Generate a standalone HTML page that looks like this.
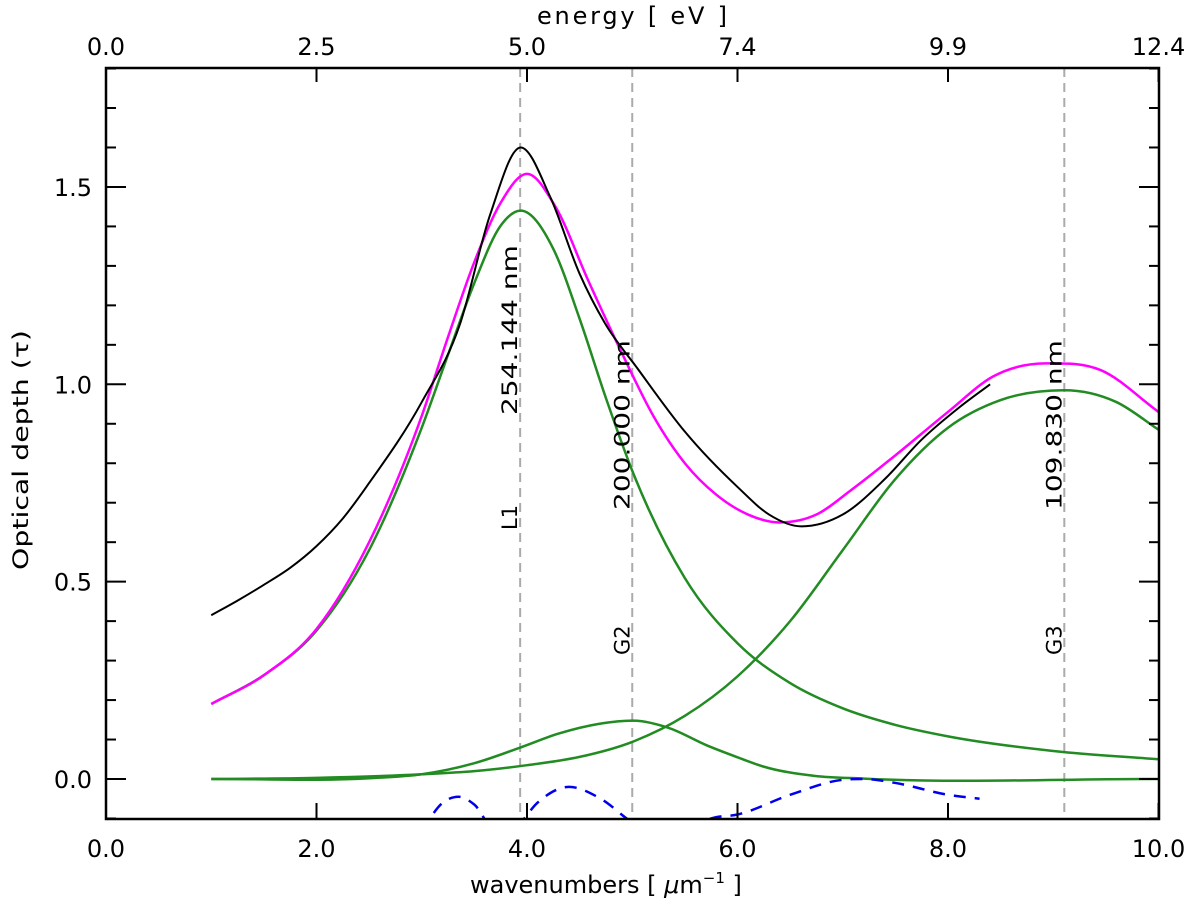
<!DOCTYPE html>
<html><head><meta charset="utf-8"><style>
body{margin:0;background:#fff}
svg{display:block;font-family:"DejaVu Sans","Liberation Sans",sans-serif}
</style></head><body>
<svg width="1200" height="907" viewBox="0 0 1200 907">
<defs><clipPath id="pc"><rect x="106" y="68" width="1053" height="751"/></clipPath></defs>
<g id="marks" clip-path="url(#pc)"></g>
<g id="axes"></g>
</svg>
<script>
const l1X=[1,1.5,2,2.5,3,3.25,3.5,3.75,3.94,4.25,4.5,4.75,5,5.5,6,6.5,7,7.5,8,9,10];
const l1V=[0.19,0.263,0.376,0.58,0.89,1.075,1.257,1.402,1.44,1.343,1.166,0.965,0.781,0.509,0.344,0.243,0.179,0.137,0.108,0.071,0.05];
const g2X=[1,2.5,3,3.5,3.94,4.3,4.69,5.0,5.34,5.71,6.0,6.24,6.73,7.2,10];
const g2V=[0,0.002,0.012,0.04,0.08,0.115,0.14,0.148,0.13,0.085,0.055,0.032,0.008,0.001,0];
const g3X=[1,2,3,3.5,4,4.5,5,5.5,6,6.5,7,7.5,8,8.5,9.1,9.6,10];
const g3V=[0,0.003,0.012,0.02,0.035,0.056,0.094,0.16,0.26,0.40,0.58,0.76,0.89,0.96,0.985,0.955,0.885];
const fitX=[1,1.5,2,2.5,3,3.25,3.5,3.75,4.0,4.27,4.58,4.9,5.2,5.5,5.8,6.1,6.4,6.75,7.07,7.5,8.0,8.43,8.93,9.45,10];
const fitV=[0.19,0.263,0.38,0.60,0.92,1.12,1.31,1.46,1.533,1.45,1.264,1.08,0.92,0.80,0.72,0.67,0.65,0.67,0.73,0.82,0.93,1.02,1.053,1.036,0.93];
const obsX=[1,1.25,1.5,1.75,2,2.25,2.5,3,3.36,3.65,3.94,4.22,4.5,4.74,5.05,5.5,6,6.3,6.61,7,7.4,7.75,8.1,8.4];
const obsV=[0.415,0.452,0.492,0.535,0.59,0.66,0.75,0.955,1.15,1.43,1.60,1.475,1.28,1.155,1.04,0.88,0.74,0.67,0.64,0.67,0.76,0.86,0.94,1.0];
const resX=[3.0,3.2,3.35,3.5,3.7,3.9,4.1,4.4,4.7,5.0,5.4,5.75,6.0,6.5,7.0,7.2,7.5,8.0,8.3];
const resV=[-0.13,-0.06,-0.045,-0.065,-0.13,-0.12,-0.06,-0.02,-0.05,-0.11,-0.16,-0.1,-0.09,-0.04,-0.002,0,-0.01,-0.04,-0.05];
const peakPos=[3.935,5.0,9.105];
const peakLabels=["254.144 nm","200.000 nm","109.830 nm"];
const peakNames=["L1","G2","G3"];
const xTicks=[0,2,4,6,8,10];
const xTickLabels=["0.0","2.0","4.0","6.0","8.0","10.0"];
const topTickLabels=["0.0","2.5","5.0","7.4","9.9","12.4"];
const yTicks=[0,0.5,1,1.5];
const yTickLabels=["0.0","0.5","1.0","1.5"];

const X=v=>106+v*105.25, Y=v=>779-v*394.7;
const NS="http://www.w3.org/2000/svg";
function mk(t,a,p){const e=document.createElementNS(NS,t);for(const k in a)e.setAttribute(k,a[k]);p.appendChild(e);return e;}
function path(xa,va){const n=xa.length,m=[];
 for(let i=0;i<n;i++){
  if(i==0)m.push((va[1]-va[0])/(xa[1]-xa[0]));
  else if(i==n-1)m.push((va[n-1]-va[n-2])/(xa[n-1]-xa[n-2]));
  else{const d0=(va[i]-va[i-1])/(xa[i]-xa[i-1]),d1=(va[i+1]-va[i])/(xa[i+1]-xa[i]);
   m.push(d0*d1<=0?0:(d0*(xa[i+1]-xa[i])+d1*(xa[i]-xa[i-1]))/(xa[i+1]-xa[i-1]));}}
 let d="M"+X(xa[0])+","+Y(va[0]);
 for(let i=0;i<n-1;i++){const h=xa[i+1]-xa[i];
  d+=`C${X(xa[i]+h/3)},${Y(va[i]+m[i]*h/3)} ${X(xa[i+1]-h/3)},${Y(va[i+1]-m[i+1]*h/3)} ${X(xa[i+1])},${Y(va[i+1])}`;}
 return d;}
const M=document.getElementById('marks'), A=document.getElementById('axes');
peakPos.forEach((p,i)=>{const l=mk('line',{x1:X(p),x2:X(p),y1:68,y2:819,stroke:'#aaa','stroke-width':2,'stroke-dasharray':'9,6'},M);

});
[[l1X,l1V,'component-l1'],[g2X,g2V,'component-g2'],[g3X,g3V,'component-g3']].forEach(([xx,v,n])=>{const e=mk('path',{d:path(xx,v),fill:'none',stroke:'#228b22','stroke-width':2.5},M);

});
let e=mk('path',{d:path(fitX,fitV),fill:'none',stroke:'#ff00ff','stroke-width':2.5},M);


e=mk('path',{d:path(obsX,obsV),fill:'none',stroke:'#000','stroke-width':2},M);


e=mk('path',{d:path(resX,resV),fill:'none',stroke:'#0000ee','stroke-width':2.5,'stroke-dasharray':'12,9'},M);


peakPos.forEach((p,i)=>{const yb=i==0?415:510;
let t=mk('text',{transform:`translate(${X(p)-3},${yb}) rotate(-90)`,'font-size':21,fill:'#000',textLength:170,lengthAdjust:'spacingAndGlyphs'},M);t.textContent=peakLabels[i];


t=mk('text',{transform:`translate(${X(p)-3},${i==0?530:655}) rotate(-90)`,'font-size':21,fill:'#000'},M);t.textContent=peakNames[i];

});
e=mk('rect',{x:106,y:68,width:1053,height:751,fill:'none',stroke:'#000','stroke-width':2.5},A);


xTicks.forEach((v,i)=>{mk('line',{x1:X(v),x2:X(v),y1:819,y2:803,stroke:'#000','stroke-width':2},A);
mk('line',{x1:X(v),x2:X(v),y1:68,y2:82,stroke:'#000','stroke-width':2},A);
let t=mk('text',{x:X(v),y:857,'font-size':24,'text-anchor':'middle'},A);t.textContent=xTickLabels[i];


t=mk('text',{x:X(v),y:55,'font-size':24,'text-anchor':'middle'},A);t.textContent=topTickLabels[i];

});
for(let k=-1;k<=18;k++){const v=k/10,maj=k%5==0;
mk('line',{x1:106,x2:106+(maj?20:10),y1:Y(v),y2:Y(v),stroke:'#000','stroke-width':2},A);
mk('line',{x1:1159,x2:1159-(maj?20:10),y1:Y(v),y2:Y(v),stroke:'#000','stroke-width':2},A);}
yTicks.forEach((v,i)=>{const t=mk('text',{x:92,y:Y(v)+9,'font-size':24,'text-anchor':'end'},A);t.textContent=yTickLabels[i];

});
let t=mk('text',{x:470,y:893,'font-size':24},A);t.innerHTML='wavenumbers [ <tspan font-style="italic">μ</tspan>m<tspan dy="-10" font-size="15">−1</tspan><tspan dy="10"> ]</tspan>';


t=mk('text',{x:632,y:24,'font-size':24,'text-anchor':'middle',textLength:190,lengthAdjust:'spacing'},A);t.textContent='energy [ eV ]';


t=mk('text',{transform:'translate(28,450) rotate(-90)','font-size':21,'text-anchor':'middle',textLength:240,lengthAdjust:'spacingAndGlyphs'},A);t.textContent='Optical depth (τ)';


</script>
</body></html>
